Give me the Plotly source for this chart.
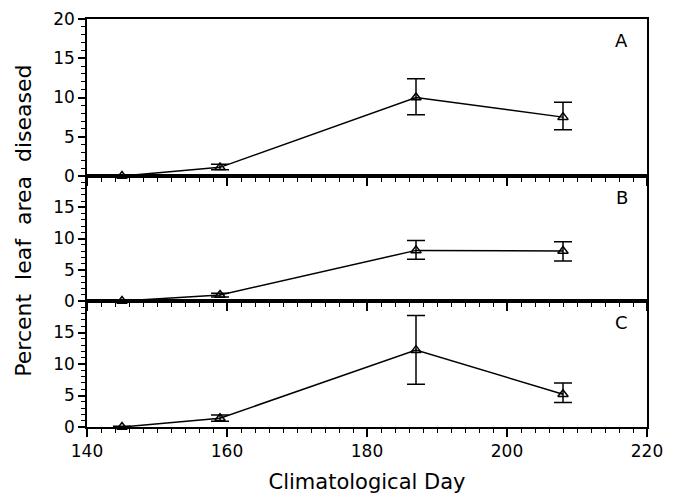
import plotly.graph_objects as go

days = [145, 159, 187, 208]

A_mean = [0.0, 1.1, 10.0, 7.5]
A_plus = [0.1, 0.4, 2.4, 1.9]
A_minus = [0.1, 0.3, 2.2, 1.6]

B_mean = [0.0, 0.95, 8.1, 8.0]
B_plus = [0.1, 0.3, 1.6, 1.5]
B_minus = [0.1, 0.3, 1.4, 1.6]

C_mean = [0.0, 1.4, 12.2, 5.2]
C_plus = [0.1, 0.5, 5.5, 1.8]
C_minus = [0.1, 0.5, 5.4, 1.3]

panel_labels = ["A", "B", "C"]
x_ticks = [140, 160, 180, 200, 220]

FONT = "DejaVu Sans, sans-serif"

fig = go.Figure()

series = [(A_mean, A_plus, A_minus, "x3", "y3"),
          (B_mean, B_plus, B_minus, "x2", "y2"),
          (C_mean, C_plus, C_minus, "x", "y")]

for mean, plus, minus, xa, ya in series:
    fig.add_trace(go.Scatter(
        x=days, y=mean, xaxis=xa, yaxis=ya, mode="lines+markers",
        line=dict(color="black", width=1.5),
        marker=dict(symbol="triangle-up-open", size=9, color="black",
                    line=dict(width=1.5, color="black")),
        error_y=dict(type="data", symmetric=False, array=plus, arrayminus=minus,
                     color="black", thickness=1.5, width=9),
        cliponaxis=False, showlegend=False))

H = 408.0
dC = [0, 126 / H]
dB = [126 / H, 251 / H]
dA = [251 / H, 1]

xcommon = dict(range=[140, 220], showline=True, linecolor="black", linewidth=1.5,
               mirror=True, ticks="outside", ticklen=8, tickwidth=1.5, tickcolor="black",
               tickvals=x_ticks, showgrid=False, zeroline=False, automargin=False,
               minor=dict(dtick=2, tick0=140, ticks="outside", ticklen=4,
                          tickwidth=1.2, tickcolor="black", showgrid=False),
               tickfont=dict(family=FONT, size=17, color="black"))

ycommon = dict(range=[0, 20], showline=True, linecolor="black", linewidth=1.5,
               mirror=True, ticks="outside", ticklen=7, tickwidth=1.5, tickcolor="black",
               showgrid=False, zeroline=False, automargin=False,
               minor=dict(dtick=1, tick0=0, ticks="outside", ticklen=4,
                          tickwidth=1.2, tickcolor="black", showgrid=False),
               tickfont=dict(family=FONT, size=17, color="black"))

fig.update_layout(
    width=677, height=497,
    margin=dict(l=87, r=30, t=19, b=70),
    plot_bgcolor="white", paper_bgcolor="white",
    font=dict(family=FONT, color="black"),
    xaxis=dict(**xcommon, anchor="y", title=dict(text="Climatological Day",
               font=dict(family=FONT, size=21), standoff=14)),
    xaxis2=dict(**xcommon, anchor="y2", matches="x", showticklabels=False),
    xaxis3=dict(**xcommon, anchor="y3", matches="x", showticklabels=False),
    yaxis=dict(**ycommon, domain=dC, anchor="x", tickvals=[0, 5, 10, 15]),
    yaxis2=dict(**ycommon, domain=dB, anchor="x2", tickvals=[0, 5, 10, 15]),
    yaxis3=dict(**ycommon, domain=dA, anchor="x3", tickvals=[0, 5, 10, 15, 20]),
)

fig.add_annotation(text="Percent\u00a0\u00a0leaf\u00a0\u00a0area\u00a0\u00a0diseased",
                   xref="paper", yref="paper",
                   x=-0.113, y=0.505, textangle=-90, showarrow=False,
                   xanchor="center", yanchor="middle",
                   font=dict(family=FONT, size=22, color="black"))

for lab, ya, yv in zip(panel_labels, ["y3 domain", "y2 domain", "y domain"], [0.86, 0.83, 0.83]):
    xa = {"y3 domain": "x3 domain", "y2 domain": "x2 domain", "y domain": "x domain"}[ya]
    fig.add_annotation(text=lab, xref=xa, yref=ya, x=0.955, y=yv, showarrow=False,
                       xanchor="center", yanchor="middle",
                       font=dict(family=FONT, size=18, color="black"))

fig.write_html("out.html")
